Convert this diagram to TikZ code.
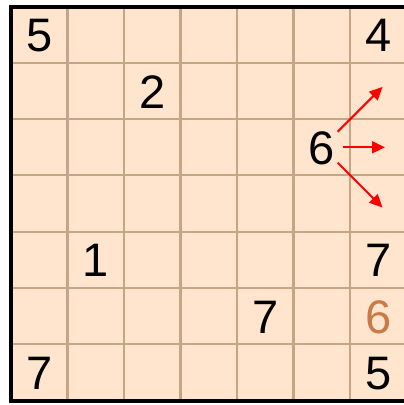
\documentclass[tikz,border=0pt]{standalone}
\usepackage{fontspec}
\setmainfont{Liberation Sans}
\usetikzlibrary{arrows.meta}
\definecolor{bgpeach}{RGB}{255,229,206}
\definecolor{gridtan}{RGB}{196,166,134}
\definecolor{givenorange}{RGB}{201,122,70}
\tikzset{
  digit/.style={font=\fontsize{47}{47}\selectfont, text=black, inner sep=0pt, anchor=center},
  orangedigit/.style={digit, text=givenorange},
  hint/.style={draw=red, line width=2pt, -{Triangle[length=13pt,width=12pt]}}
}
\begin{document}
\begin{tikzpicture}[x=1pt,y=-1pt]
\useasboundingbox (0,0) rectangle (404,405);
\begin{scope}
\clip (0,0) rectangle (404,405);
\fill[bgpeach] (11,6.5) rectangle (406.5,400.5);
\foreach \i in {1,...,6} {
  \draw[gridtan, line width=2.2pt] ({11+\i*56.5},6.5) -- ({11+\i*56.5},400.5);
  \draw[gridtan, line width=2.2pt] (11,{6.5+\i*56.28}) -- (406.5,{6.5+\i*56.28});
}
\draw[black, line width=4pt] (11,6.5) rectangle (406.5,400.5);
\end{scope}
% digits: cell (c,r) center = (39.25+56.5c, 34.6+56.28r)
\node[digit] (d00) at (39.25,35.6) {5};
\node[digit] (d60) at (378.25,35.6) {4};
\node[digit] (d21) at (152.25,91.9) {2};
\node[digit] (d52) at (321.75,148.2) {6};
\node[digit] (d14) at (95.75,260.7) {1};
\node[digit] (d64) at (378.25,260.7) {7};
\node[digit] (d45) at (265.25,317.0) {7};
\node[orangedigit] (d65) at (378.25,317.0) {6};
\node[digit] (d06) at (39.25,373.3) {7};
\node[digit] (d66) at (378.25,373.3) {5};
% arrows
\coordinate (aus) at (337.7,131.7);
\coordinate (aue) at (382.5,86.9);
\coordinate (ars) at (343.3,147.3);
\coordinate (are) at (385,147.3);
\coordinate (ads) at (337.7,162.7);
\coordinate (ade) at (382.5,207.5);
\draw[hint] (aus) -- (aue);
\draw[hint] (ars) -- (are);
\draw[hint] (ads) -- (ade);
\end{tikzpicture}
\end{document}
